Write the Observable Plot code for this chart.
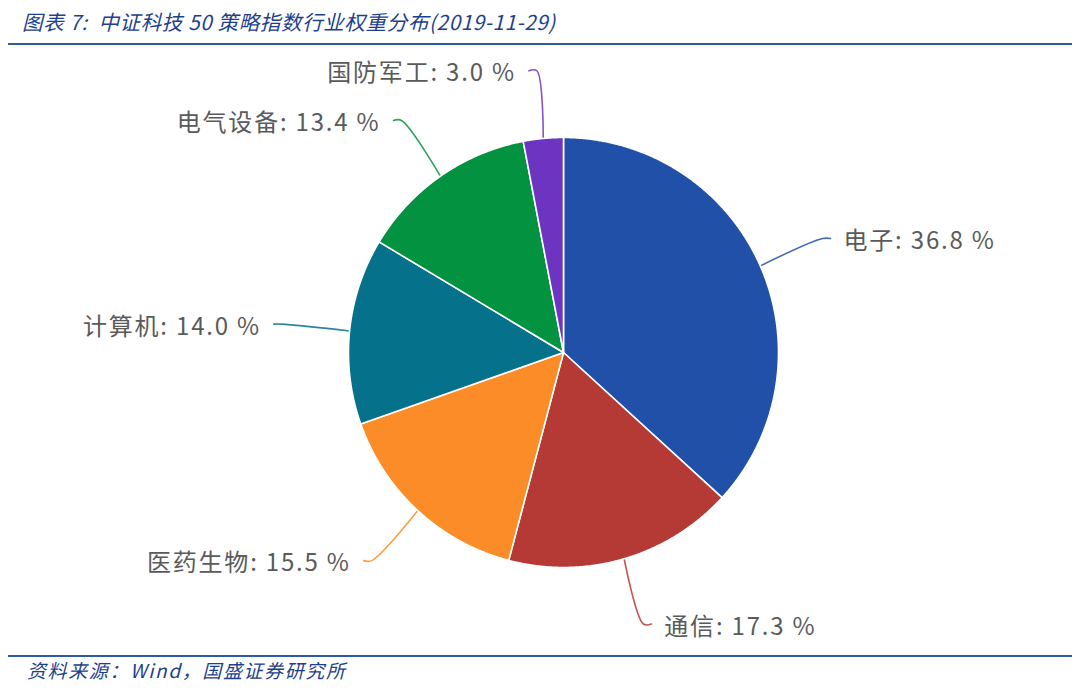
<!DOCTYPE html>
<html>
<head>
<meta charset="utf-8">
<script src="https://cdn.jsdelivr.net/npm/d3@7"></script>
<script src="https://cdn.jsdelivr.net/npm/@observablehq/plot@0.6"></script>
<style>
  html, body { margin: 0; padding: 0; background: #fff; }
  #wrap { width: 1080px; }
  #title {
    margin: 0 8px; height: 43px; border-bottom: 2px solid #2c5ba6;
    padding-left: 14px; box-sizing: content-box;
    font-family: "Noto Sans CJK SC", sans-serif; font-style: italic;
    font-size: 20.5px; line-height: 42px; color: #1d3f8e; letter-spacing: 0.65px;
  }
  #footer {
    margin: 0 8px; border-top: 2px solid #2c5ba6;
    padding-left: 19px;
    font-family: "Noto Sans CJK SC", sans-serif; font-style: italic;
    font-size: 19px; line-height: 26px; color: #1d3f8e; letter-spacing: 1.6px;
  }
  #chart svg { display: block; }
  #chart svg text { letter-spacing: 1.8px; }
</style>
</head>
<body>
<div id="wrap">
  <div id="title">图表 7:&nbsp; 中证科技 50 策略指数行业权重分布(2019-11-29)</div>
  <div id="chart"></div>
  <div id="footer">资料来源：Wind，国盛证券研究所</div>
</div>
<script>
const categories = ["电子", "通信", "医药生物", "计算机", "电气设备", "国防军工"];
const weights = [36.8, 17.3, 15.5, 14.0, 13.4, 3.0];
const colors = ["#2150a8", "#b53a36", "#fb8c27", "#05718b", "#03923f", "#6c34c0"];

const W = 1080, H = 610;
const cx = 563, cy = 307, R = 215;
const L1 = 68, L2 = 8, GAP = 13;

const rows = categories.map((c, i) => ({name: c, w: weights[i]}));
const arcs = d3.pie().sort(null).value(d => d.w).startAngle(0).endAngle(2 * Math.PI)(rows);

const slicePts = [];
const leaderPts = [];
const labels = [];
arcs.forEach(a => {
  const name = a.data.name;
  slicePts.push({name, x: cx, y: cy});
  const n = Math.max(4, Math.ceil((a.endAngle - a.startAngle) / 0.005));
  for (let k = 0; k <= n; k++) {
    const t = a.startAngle + (a.endAngle - a.startAngle) * k / n;
    slicePts.push({name, x: cx + R * Math.sin(t), y: cy - R * Math.cos(t)});
  }
  slicePts.push({name, x: cx, y: cy});
  const m = (a.startAngle + a.endAngle) / 2;
  const s = Math.sin(m) >= 0 ? 1 : -1;
  const p1 = {x: cx + R * Math.sin(m), y: cy - R * Math.cos(m)};
  const p2 = {x: cx + (R + L1) * Math.sin(m), y: cy - (R + L1) * Math.cos(m)};
  const p3 = {x: p2.x + s * L2, y: p2.y};
  [p1, p2, p3].forEach(p => leaderPts.push({name, x: p.x, y: p.y}));
  labels.push({name, x: p3.x + s * GAP, y: p3.y, anchor: s > 0 ? "start" : "end",
               text: `${name}: ${a.data.w.toFixed(1)} %`});
});

const colorScale = {domain: categories, range: colors};

const chart = Plot.plot({
  width: W, height: H,
  margin: 0,
  x: {domain: [0, W], range: [0, W], axis: null},
  y: {domain: [0, H], range: [0, H], axis: null},
  color: colorScale,
  style: {background: "white"},
  marks: [
    Plot.line(leaderPts, {x: "x", y: "y", z: "name", stroke: "name", strokeWidth: 1.6,
      strokeOpacity: 0.85, curve: "catmull-rom"}),
    Plot.line(slicePts, {x: "x", y: "y", z: "name", fill: "name", stroke: "white",
      strokeWidth: 1.6, strokeLinejoin: "round", curve: "linear"}),
    Plot.text(labels.filter(d => d.anchor === "start"), {x: "x", y: "y", text: "text",
      textAnchor: "start", dy: 3, fontSize: 24, fill: "#5a5a5a",
      fontFamily: "Noto Sans CJK SC"}),
    Plot.text(labels.filter(d => d.anchor === "end"), {x: "x", y: "y", text: "text",
      textAnchor: "end", dy: 3, fontSize: 24, fill: "#5a5a5a",
      fontFamily: "Noto Sans CJK SC"})
  ]
});
document.getElementById("chart").appendChild(chart);
</script>
</body>
</html>
